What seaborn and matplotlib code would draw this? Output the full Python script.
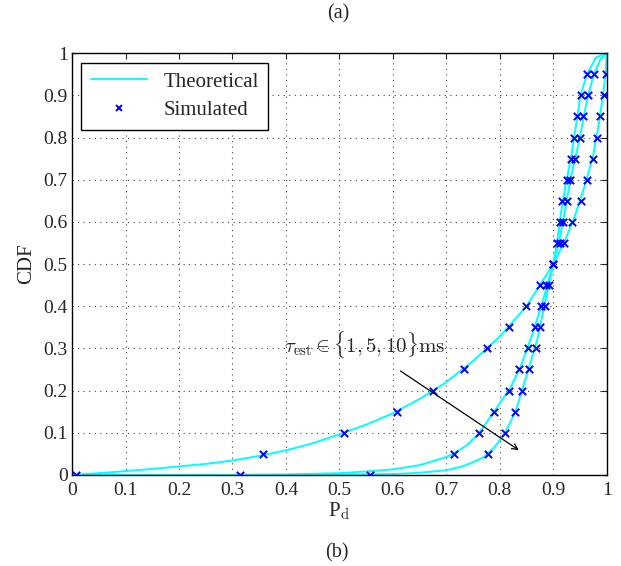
import numpy as np
import pandas as pd
import seaborn as sns
import matplotlib.pyplot as plt
from matplotlib.lines import Line2D

# simulated CDF levels and sample values
cdf_levels = [0, .05, .1, .15, .2, .25, .3, .35, .4, .45, .5,
              .55, .6, .65, .7, .75, .8, .85, .9, .95]
sim_1ms = [0.008, 0.357, 0.508, 0.607, 0.675, 0.733, 0.776, 0.817, 0.849, 0.876, 0.900,
           0.921, 0.936, 0.951, 0.963, 0.974, 0.982, 0.988, 0.995, 0.998]
sim_5ms = [0.315, 0.714, 0.762, 0.789, 0.817, 0.836, 0.853, 0.865, 0.878, 0.887, 0.900,
           0.912, 0.918, 0.925, 0.932, 0.941, 0.950, 0.956, 0.965, 0.976]
sim_10ms = [0.557, 0.778, 0.810, 0.829, 0.842, 0.854, 0.867, 0.876, 0.884, 0.892, 0.900,
            0.907, 0.912, 0.917, 0.925, 0.933, 0.939, 0.945, 0.951, 0.963]

# theoretical curves
th_1ms_x = [0, 0.05, 0.1, 0.15, 0.2, 0.25, 0.3, 0.35, 0.4, 0.45, 0.5, 0.55, 0.6, 0.65, 0.7,
            0.75, 0.8, 0.85, 0.875, 0.9, 0.92, 0.94, 0.96, 0.975, 0.985, 0.993, 0.998, 1.0]
th_1ms_y = [0, 0.004, 0.009, 0.014, 0.02, 0.026, 0.034, 0.045, 0.058, 0.075, 0.096, 0.119,
            0.146, 0.18, 0.22, 0.27, 0.328, 0.40, 0.45, 0.5, 0.55, 0.612, 0.69, 0.76, 0.83,
            0.9, 0.95, 1.0]
th_5ms_x = [0, 0.3, 0.4, 0.5, 0.55, 0.6, 0.65, 0.7, 0.72, 0.74, 0.76, 0.78, 0.8, 0.82, 0.84,
            0.86, 0.88, 0.9, 0.91, 0.918, 0.925, 0.932, 0.941, 0.95, 0.957, 0.965, 0.976,
            0.988, 1.0]
th_5ms_y = [0, 0.0, 0.001, 0.004, 0.008, 0.013, 0.023, 0.042, 0.055, 0.072, 0.097, 0.133,
            0.17, 0.207, 0.26, 0.33, 0.41, 0.5, 0.55, 0.6, 0.65, 0.7, 0.75, 0.8, 0.85, 0.9,
            0.95, 0.985, 1.0]
th_10ms_x = [0, 0.5, 0.6, 0.65, 0.7, 0.73, 0.75, 0.77, 0.79, 0.81, 0.83, 0.85, 0.87, 0.89,
             0.9, 0.907, 0.912, 0.918, 0.925, 0.933, 0.939, 0.945, 0.951, 0.963, 0.98, 1.0]
th_10ms_y = [0, 0.0, 0.002, 0.005, 0.011, 0.02, 0.03, 0.042, 0.065, 0.1, 0.152, 0.235, 0.32,
             0.44, 0.5, 0.55, 0.6, 0.65, 0.7, 0.75, 0.8, 0.85, 0.9, 0.95, 0.99, 1.0]

sns.set_style("white")
plt.rcParams['font.family'] = ['Liberation Serif', 'DejaVu Serif']
plt.rcParams['mathtext.fontset'] = 'cm'

th = pd.concat([
    pd.DataFrame({'x': th_1ms_x, 'y': th_1ms_y, 'tau': '1'}),
    pd.DataFrame({'x': th_5ms_x, 'y': th_5ms_y, 'tau': '5'}),
    pd.DataFrame({'x': th_10ms_x, 'y': th_10ms_y, 'tau': '10'}),
])
sim = pd.concat([
    pd.DataFrame({'x': s, 'y': cdf_levels, 'tau': t})
    for s, t in zip([sim_1ms, sim_5ms, sim_10ms], ['1', '5', '10'])
])

fig = plt.figure(figsize=(6.21, 5.66), dpi=100)
ax = fig.add_axes([0.116, 0.161, 0.861, 0.745])

sns.lineplot(data=th, x='x', y='y', units='tau', estimator=None, sort=False,
             color='#00ffff', lw=1.4, ax=ax, legend=False)
sns.scatterplot(data=sim, x='x', y='y', marker='x', color='#0000ff', s=28,
                linewidth=1.4, ax=ax, legend=False, zorder=3)

ax.set_xlim(0, 1)
ax.set_ylim(0, 1)
ticks = np.round(np.arange(0, 1.01, 0.1), 1)
ticklabels = ['0'] + [f'{t:g}' for t in ticks[1:-1]] + ['1']
ax.set_xticks(ticks)
ax.set_xticklabels(ticklabels)
ax.set_yticks(ticks)
ax.set_yticklabels(ticklabels)
ax.tick_params(direction='in', top=True, right=True, length=4, labelsize=14, width=0.8)
ax.tick_params(axis='x', pad=5)
ax.tick_params(axis='y', pad=3)
ax.grid(True, linestyle=(0, (1, 4)), color='#444444', lw=0.8)
for sp in ax.spines.values():
    sp.set_color('black')
    sp.set_linewidth(1)

ax.set_xlabel(r'P$_\mathrm{d}$', fontsize=15, labelpad=1)
ax.set_ylabel('CDF', fontsize=15, labelpad=5)

handles = [Line2D([], [], color='#00ffff', lw=1.4),
           Line2D([], [], color='#0000ff', marker='x', ls='none', ms=5, mew=1.4)]
leg = ax.legend(handles, ['Theoretical', 'Simulated'], loc='upper left', fontsize=15,
                frameon=True, fancybox=False, edgecolor='black', framealpha=1,
                borderaxespad=0.45, handlelength=2.7, labelspacing=0.45, borderpad=0.45)
leg.get_frame().set_linewidth(1)

ax.annotate('', xy=(0.84, 0.055), xytext=(0.61, 0.25),
            arrowprops=dict(arrowstyle='->', color='black', lw=0.9))
ax.text(0.397, 0.31, r'$\tau_{\mathrm{est}} \in \{1, 5, 10\}\mathrm{ms}$', fontsize=15,
        va='center', ha='left')

fig.text(0.545, 0.975, '(a)', ha='center', va='center', fontsize=14.5)
fig.text(0.543, 0.023, '(b)', ha='center', va='center', fontsize=14.5)

fig.savefig('out.png', dpi=100)
